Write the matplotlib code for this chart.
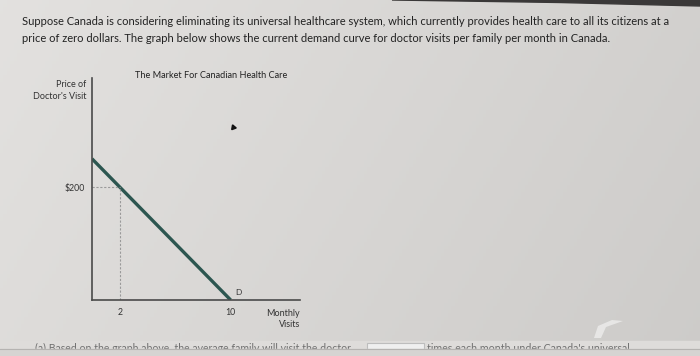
import numpy as np
import matplotlib
matplotlib.use('Agg')
import matplotlib.pyplot as plt
from matplotlib.patches import Polygon, Rectangle

# demand curve for doctor visits (price falls to zero at 10 visits)
visitas = [0, 10]
precos = [250, 0]
visita_marcada = 2
preco_marcado = 200
ticks_x = [2, 10]
rotulos_x = ['2', '10']
ticks_y = [200]
rotulos_y = ['$200']

texto_l1 = ('Suppose Canada is considering eliminating its universal healthcare system, '
            'which currently provides health care to all its citizens at a')
texto_l2 = ('price of zero dollars. The graph below shows the current demand curve for '
            'doctor visits per family per month in Canada.')
texto_baixo = ('(a) Based on the graph above, the average family will visit the doctor')
texto_baixo2 = "times each month under Canada's universal"

plt.rcParams['font.family'] = ['Lato', 'DejaVu Sans']

fig = plt.figure(figsize=(7, 3.56), dpi=100)
W, H = 700, 356

def px(x, y):
    # pixel position (from top-left) to background axes coordinates
    return [x / W, 1 - y / H]

# photo-like background, lighter on the left
fundo = fig.add_axes([0, 0, 1, 1], zorder=0)
gx = np.linspace(0, 1, 200)
gy = np.linspace(0, 1, 100)
X, Y = np.meshgrid(gx, gy)
val = 0.885 - 0.065 * X - 0.02 * (1 - Y)
fundo.imshow(np.dstack([val + 0.005, val - 0.002, val - 0.01]).clip(0, 1),
             extent=[0, 1, 0, 1], aspect='auto', origin='lower')
fundo.add_patch(Polygon([px(392, 0), px(700, 0), px(700, 6), px(560, 2.5)],
                        closed=True, color='#3a3838', zorder=3))
fundo.add_patch(Polygon([px(594, 338), px(598, 326), px(612, 320), px(623, 321),
                         px(606, 327), px(601, 338)],
                        closed=True, color='white', alpha=0.5, lw=0, zorder=1))
fundo.add_patch(Rectangle(px(0, 349), 1, 8 / H, color='#dedcda', zorder=1))
fundo.add_patch(Rectangle(px(367, 349), 57 / W, 6 / H, facecolor='#efefef',
                          edgecolor='#bdbdbd', lw=0.8, zorder=2))
fundo.text(*px(35, 351.5), texto_baixo, fontsize=7.6, color='#707070',
           va='baseline', zorder=3)
fundo.text(*px(427, 351.5), texto_baixo2, fontsize=7.7, color='#707070',
           va='baseline', zorder=3)
# bottom edge of the page hides the lower half of the next line
fundo.add_patch(Rectangle((0, 0), 1, 7 / H, color='#d6d4d2', zorder=4))
fundo.axhline(7 / H, color='#b5b3b1', lw=0.8, zorder=5)
fundo.set_xlim(0, 1)
fundo.set_ylim(0, 1)
fundo.axis('off')

fig.text(22 / W, 1 - 25 / H, texto_l1, fontsize=8.0, color='#222222', va='baseline')
fig.text(22 / W, 1 - 42 / H, texto_l2, fontsize=8.0, color='#222222', va='baseline')

ax = fig.add_axes([92 / W, 56 / H, 208 / W, 222 / H], zorder=2)
ax.patch.set_alpha(0)
ax.plot(visitas, precos, color='#2c5650', lw=2.4, solid_capstyle='butt')
ax.plot([0, visita_marcada], [preco_marcado, preco_marcado], color='#9a9a9a',
        lw=0.8, ls=(0, (2, 1.5)))
ax.plot([visita_marcada, visita_marcada], [0, preco_marcado], color='#9a9a9a',
        lw=0.8, ls=(0, (2, 1.5)))
ax.set_xlim(0, 15.0)
ax.set_ylim(0, 393)
for lado in ['top', 'right']:
    ax.spines[lado].set_visible(False)
for lado in ['left', 'bottom']:
    ax.spines[lado].set_color('#4a4a4a')
    ax.spines[lado].set_linewidth(1.2)
ax.set_xticks(ticks_x)
ax.set_xticklabels(rotulos_x)
ax.set_yticks(ticks_y)
ax.set_yticklabels(rotulos_y)
ax.tick_params(axis='x', length=0, labelsize=6.3, colors='#333333', pad=6)
ax.tick_params(axis='y', length=0, labelsize=6.3, colors='#333333', pad=5)

ax.text(10.3, 14, 'D', fontsize=6, color='#333333', va='center')
ax.text(15.0, -16, 'Monthly\nVisits', fontsize=6.5, color='#333333', ha='right',
        va='top', linespacing=1.25)
ax.text(-0.4, 389, "Price of\nDoctor's Visit", fontsize=6.5, color='#333333',
        ha='right', va='top', linespacing=1.45)
ax.text(8.6, 398, 'The Market For Canadian Health Care', fontsize=6.6,
        color='#222222', ha='center', va='center')
ax.plot([10.2], [306], marker=(3, 0, 20), color='#111111', ms=4, clip_on=False)

fig.savefig('out.png', dpi=100)
